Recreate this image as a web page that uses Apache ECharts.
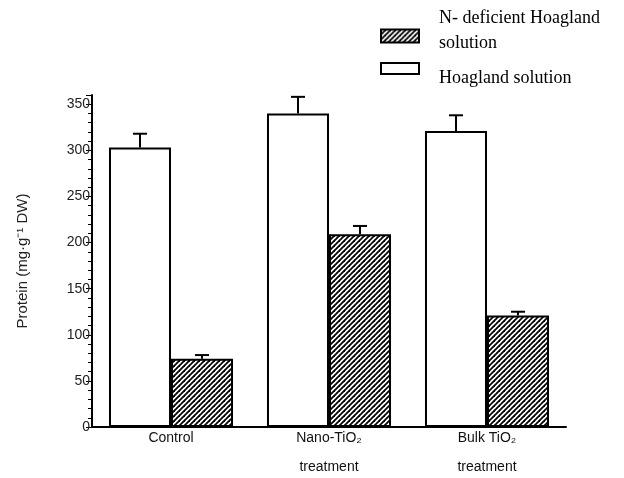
<!DOCTYPE html>
<html><head><meta charset="utf-8">
<script src="https://cdn.jsdelivr.net/npm/echarts@6/dist/echarts.min.js"></script>
<style>html,body{margin:0;padding:0;background:#fff}#c{width:624px;height:478px}</style>
</head><body><div id="c"></div>
<script>
var categories = ['Control', 'Nano-TiO₂\ntreatment', 'Bulk TiO₂\ntreatment'];
var hoagland = [303, 340, 321];
var hoaglandErr = [15, 18, 17];
var deficient = [74, 209, 121];
var deficientErr = [4, 9, 4];
var yTicks = [0, 50, 100, 150, 200, 250, 300, 350];

var nameH = 'Hoagland solution';
var nameD = 'N- deficient Hoagland\nsolution';
var gapFrac = 0.215;

var cv = document.createElement('canvas');
cv.width = 5; cv.height = 5;
var cx = cv.getContext('2d');
cx.fillStyle = '#fff'; cx.fillRect(0, 0, 5, 5);
cx.strokeStyle = '#000'; cx.lineWidth = 1.8;
[-5, 0, 5].forEach(function (o) {
  cx.beginPath(); cx.moveTo(o - 1, 6); cx.lineTo(o + 6, -1); cx.stroke();
});
var hatch = { image: cv, repeat: 'repeat' };

function errSeries(vals, errs, sign) {
  return {
    type: 'custom',
    silent: true,
    z: 5,
    data: vals.map(function (v, i) { return [i, v, v + errs[i]]; }),
    renderItem: function (params, api) {
      var bw = api.size([1, 0])[0];
      var off = sign * bw * (1 - gapFrac) / 4;
      var p0 = api.coord([api.value(0), api.value(1)]);
      var p1 = api.coord([api.value(0), api.value(2)]);
      var x = p0[0] + off;
      var st = { stroke: '#000', lineWidth: 2 };
      return { type: 'group', children: [
        { type: 'line', shape: { x1: x, y1: p0[1], x2: x, y2: p1[1] }, style: st },
        { type: 'line', shape: { x1: x - 7, y1: p1[1], x2: x + 7, y2: p1[1] }, style: st }
      ] };
    }
  };
}

var serif = { fontFamily: 'Liberation Serif', fontSize: 18, color: '#000' };
var chart = echarts.init(document.getElementById('c'));
chart.setOption({
  backgroundColor: '#fff',
  animation: false,
  grid: { left: 92, right: 58, top: 95, bottom: 51 },
  legend: [
    { left: 380, top: 9.5, padding: 0, orient: 'vertical', data: [{ name: nameD, icon: 'rect' }],
      itemWidth: 38, itemHeight: 13,
      formatter: function (n) {
        var p = n.split('\n');
        return '{a|' + p[0] + '}\n{a|' + p[1] + '}\n{e| }';
      },
      textStyle: { padding: [0, 0, 0, 15], rich: {
        a: Object.assign({}, serif, { lineHeight: 25 }),
        e: Object.assign({}, serif, { fontSize: 8, lineHeight: 10 })
      } } },
    { left: 380, top: 49.5, padding: 0, orient: 'vertical', data: [{ name: nameH, icon: 'rect' }],
      itemWidth: 38, itemHeight: 11,
      formatter: function (n) { return '{e| }\n{a|' + n + '}'; },
      textStyle: { padding: [0, 0, 0, 15], rich: {
        a: Object.assign({}, serif, { lineHeight: 20 }),
        e: Object.assign({}, serif, { lineHeight: 20 })
      } } }
  ],
  xAxis: {
    type: 'category',
    data: categories,
    axisLine: { lineStyle: { color: '#000', width: 2 } },
    axisTick: { inside: true, length: 3, lineStyle: { color: '#000' } },
    axisLabel: {
      margin: 3,
      formatter: function (v) {
        var parts = v.split('\n');
        return '{a|' + parts[0] + '}' + (parts[1] ? '\n{b|' + parts[1] + '}' : '');
      },
      rich: {
        a: { fontFamily: 'Liberation Sans', fontSize: 14, color: '#111', lineHeight: 16 },
        b: { fontFamily: 'Liberation Sans', fontSize: 14, color: '#111', lineHeight: 42 }
      }
    }
  },
  yAxis: {
    type: 'value',
    min: 0, max: 360, interval: 50,
    name: 'Protein (mg·g⁻¹ DW)',
    nameLocation: 'middle',
    nameGap: 62,
    nameTextStyle: { fontFamily: 'Liberation Sans', fontSize: 15, color: '#222' },
    axisLine: { show: true, lineStyle: { color: '#000', width: 2 } },
    axisTick: { show: true, length: 6, lineStyle: { color: '#000' } },
    minorTick: { show: true, splitNumber: 5, length: 4, lineStyle: { color: '#000' } },
    splitLine: { show: false },
    axisLabel: {
      margin: 2,
      fontFamily: 'Liberation Sans', fontSize: 14, color: '#222',
      formatter: function (v) { return yTicks.indexOf(v) >= 0 ? String(v) : ''; }
    }
  },
  series: [
    { name: nameH, type: 'bar', data: hoagland, barGap: '0%', barCategoryGap: (gapFrac * 100) + '%',
      itemStyle: { color: '#fff', borderColor: '#000', borderWidth: 2 } },
    { name: nameD, type: 'bar', data: deficient, barGap: '0%', barCategoryGap: (gapFrac * 100) + '%',
      itemStyle: { color: hatch, borderColor: '#000', borderWidth: 2 } },
    errSeries(hoagland, hoaglandErr, -1),
    errSeries(deficient, deficientErr, 1)
  ]
});
</script>
</body></html>
